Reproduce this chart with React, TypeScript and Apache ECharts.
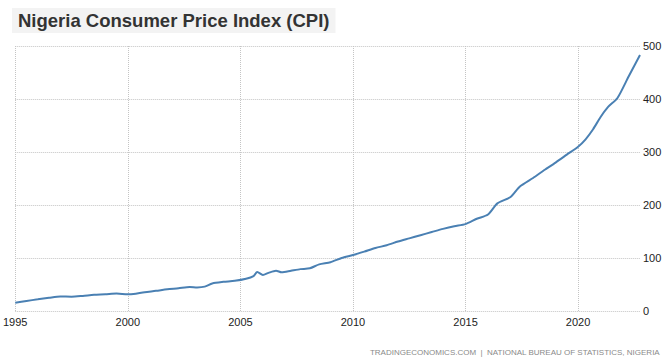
import React, { useEffect, useRef } from "react";
import * as echarts from "echarts";

const dates: string[] = [
  "1995-01", "1995-07", "1996-01", "1996-07", "1997-01", "1997-07", "1998-01", "1998-07",
  "1999-01", "1999-07", "2000-01", "2000-04", "2000-10", "2001-04", "2001-10", "2002-04",
  "2002-10", "2003-02", "2003-06", "2003-10", "2004-04", "2004-10", "2005-04", "2005-08",
  "2005-10", "2006-01", "2006-04", "2006-08", "2006-11", "2007-04", "2007-09", "2008-02",
  "2008-07", "2009-01", "2009-07", "2010-01", "2010-07", "2011-01", "2011-07", "2012-01",
  "2012-07", "2013-01", "2013-07", "2014-01", "2014-07", "2015-01", "2015-07", "2016-01",
  "2016-06", "2017-01", "2017-06", "2018-01", "2018-07", "2019-01", "2019-07", "2020-01",
  "2020-05", "2020-09", "2021-01", "2021-05", "2021-10", "2022-04", "2022-10",
];

const cpiValues: number[] = [
  15.5, 19, 22, 25, 27.5, 27, 28.5, 30.5,
  31.5, 33, 31.5, 32, 35.5, 38, 41, 43,
  45.5, 44.5, 46, 52, 55, 57, 61, 66,
  73.5, 68, 72, 76, 73, 76, 79, 80.5,
  88, 92, 100, 105.5, 112, 119, 124, 131,
  137, 143, 149, 155, 160, 164, 174, 182,
  203, 215, 235, 251, 266, 280, 295, 310,
  324, 343, 366, 385, 402, 443, 483,
];

const yearTicks: number[] = [1995, 2000, 2005, 2010, 2015, 2020];
const yTickValues: number[] = [0, 100, 200, 300, 400, 500];

const titleText = "Nigeria Consumer Price Index (CPI)";
const footerText = "TRADINGECONOMICS.COM  |  NATIONAL BUREAU OF STATISTICS, NIGERIA";

function toYear(d: string): number {
  const [y, m] = d.split("-").map(Number);
  return y + (m - 1) / 12;
}

export default function App() {
  const ref = useRef<HTMLDivElement>(null);

  useEffect(() => {
    if (!ref.current) return;
    const chart = echarts.init(ref.current, undefined, { renderer: "svg" });
    const seriesData = dates.map((d, i) => [toYear(d), cpiValues[i]]);
    const xMin = yearTicks[0];
    const xMax = toYear(dates[dates.length - 1]);
    const font = "'Liberation Sans', Arial, sans-serif";

    chart.setOption({
      animation: false,
      backgroundColor: "#ffffff",
      title: [
        {
          text: titleText,
          left: 12,
          top: 8,
          padding: [3, 6, 3, 6],
          backgroundColor: "#f3f3f3",
          textStyle: {
            fontFamily: font,
            fontSize: 18.5,
            fontWeight: "bold",
            color: "#333333",
          },
        },
        {
          text: footerText,
          right: 10,
          bottom: 7,
          padding: 0,
          textStyle: {
            fontFamily: font,
            fontSize: 8,
            fontWeight: "normal",
            color: "#8a8a8a",
          },
        },
      ],
      grid: { left: 12, right: 30, top: 46, bottom: 52, containLabel: false },
      xAxis: {
        type: "value",
        min: xMin,
        max: xMax,
        interval: 5,
        axisLine: { show: false },
        axisTick: { show: false },
        splitLine: { show: false },
        axisLabel: {
          showMaxLabel: false,
          margin: 5,
          fontFamily: font,
          fontSize: 11,
          color: "#222222",
          formatter: (v: number) => (Math.abs(v % 5) < 1e-6 ? String(Math.round(v)) : ""),
        },
      },
      yAxis: {
        type: "value",
        position: "right",
        min: yTickValues[0],
        max: yTickValues[yTickValues.length - 1],
        interval: 100,
        axisLine: { show: false },
        axisTick: { show: false },
        axisLabel: {
          margin: 3,
          fontFamily: font,
          fontSize: 11,
          color: "#222222",
        },
        splitLine: {
          show: true,
          lineStyle: { color: "#c4c4c4", type: [1, 1], width: 1 },
        },
      },
      series: [
        {
          type: "line",
          data: seriesData,
          showSymbol: false,
          smooth: 0.25,
          lineStyle: { color: "#4a80b3", width: 2 },
          markLine: {
            silent: true,
            symbol: "none",
            label: { show: false },
            lineStyle: { color: "#c4c4c4", type: [1, 1], width: 1 },
            data: yearTicks.map((y) => ({ xAxis: y })),
            z: 1,
          },
          z: 3,
        },
      ],
    });

    return () => chart.dispose();
  }, []);

  return (
    <div
      ref={ref}
      style={{ position: "absolute", left: 0, top: 0, width: 670, height: 363 }}
    />
  );
}
